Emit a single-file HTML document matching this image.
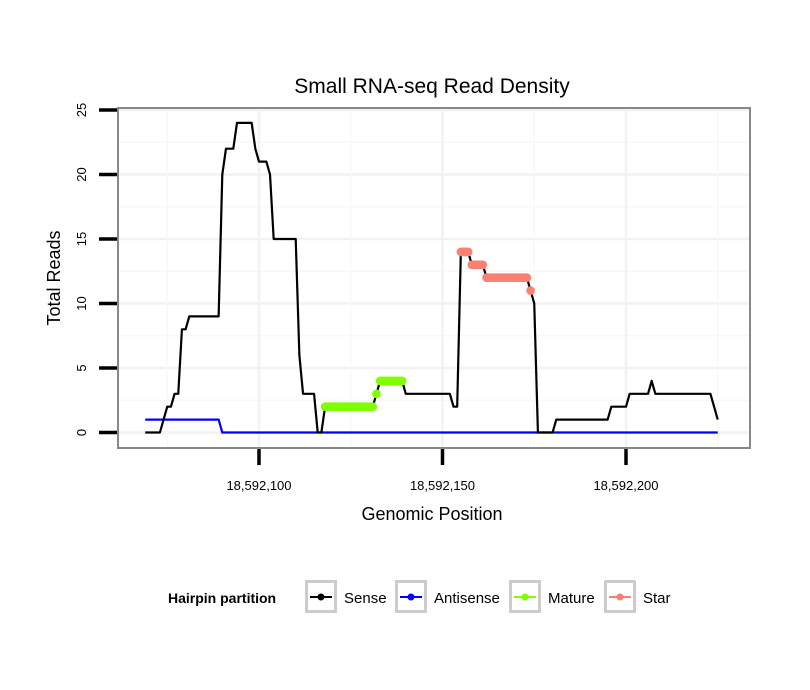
<!DOCTYPE html>
<html><head><meta charset="utf-8"><style>
body{margin:0;background:#fff;}
svg{display:block;font-family:"Liberation Sans",sans-serif;}
</style></head><body>
<svg id="chart" width="810" height="690">
<text x="432" y="93" text-anchor="middle" font-size="21">Small RNA-seq Read Density</text>
<g id="grid"></g>
<rect x="118" y="108" width="632" height="340" fill="none" stroke="#888" stroke-width="2"/>
<g id="axes"></g>
<g id="series"></g>
<text x="432" y="520" text-anchor="middle" font-size="18">Genomic Position</text>
<text transform="translate(60,278) rotate(-90)" text-anchor="middle" font-size="18">Total Reads</text>
<g id="legend">
<text x="168" y="603" font-size="14" font-weight="bold">Hairpin partition</text>
</g>
</svg>
<script>
const senseStart = 69;
const senseVals = [0,0,0,0,0,1,2,2,3,3,8,8,9,9,9,9,9,9,9,9,9,20,22,22,22,24,24,24,24,24,22,21,21,21,20,15,15,15,15,15,15,15,6,3,3,3,3,0,0,2,2,2,2,2,2,2,2,2,2,2,2,2,2,3,4,4,4,4,4,4,4,3,3,3,3,3,3,3,3,3,3,3,3,3,2,2,14,14,14,13,13,13,13,12,12,12,12,12,12,12,12,12,12,12,12,11,10,0,0,0,0,0,1,1,1,1,1,1,1,1,1,1,1,1,1,1,1,2,2,2,2,2,3,3,3,3,3,3,4,3,3,3,3,3,3,3,3,3,3,3,3,3,3,3,3,2,1];
const antiStart = 69;
const antiVals = [1,1,1,1,1,1,1,1,1,1,1,1,1,1,1,1,1,1,1,1,1];
const antiEnd = 225;
const matureStart = 118;
const matureEnd = 139;
const starStart = 155;
const starEnd = 174;
const yTicks = [0,5,10,15,20,25];
const xTicks = [18592100,18592150,18592200];
const xTickLabels = ["18,592,100","18,592,150","18,592,200"];
const legendLabels = ["Sense","Antisense","Mature","Star"];
const legendColors = ["#000","#0000ff","#7fff00","#fa8072"];
const legendKeyX = [305,395,509,604];

const NS="http://www.w3.org/2000/svg";
const xs = p => 259 + (p - 100) * 3.67;
const ys = v => 432.5 - v * 12.9;
function mk(tag, attrs, parent){const e=document.createElementNS(NS,tag);for(const k in attrs)e.setAttribute(k,attrs[k]);parent.appendChild(e);return e;}
const grid=document.getElementById('grid'),axes=document.getElementById('axes'),ser=document.getElementById('series'),leg=document.getElementById('legend');

for(let v=0; v<=25; v+=2.5){
  const g=mk('line',{x1:119,x2:749,y1:ys(v),y2:ys(v),stroke:(v%5===0)?'#f2f2f2':'#f8f8f8','stroke-width':(v%5===0)?2.5:1.5},grid);
  
  
}
for(let p=75; p<=225; p+=25){
  const g=mk('line',{x1:xs(p),x2:xs(p),y1:109,y2:447,stroke:(p%50===0)?'#f2f2f2':'#f8f8f8','stroke-width':(p%50===0)?2.5:1.5},grid);
  
  
}
yTicks.forEach(v=>{
  const t=mk('line',{x1:99,x2:117,y1:ys(v),y2:ys(v),stroke:'#000','stroke-width':3.5},axes);
  
  
  const l=mk('text',{transform:`translate(86,${ys(v)}) rotate(-90)`,'text-anchor':'middle','font-size':13},axes);
  l.textContent=v;
  
  
});
xTicks.forEach((v,i)=>{
  const p=v-18592000;
  const t=mk('line',{x1:xs(p),x2:xs(p),y1:449,y2:465,stroke:'#000','stroke-width':3.5},axes);
  
  
  const l=mk('text',{x:xs(p),y:490,'text-anchor':'middle','font-size':13},axes);
  l.textContent=xTickLabels[i];
  
  
});
function pts(start, vals){return vals.map((v,i)=>xs(start+i)+','+ys(v)).join(' ');}
const antiFull = antiVals.slice();
for(let p=antiStart+antiVals.length; p<=antiEnd; p++) antiFull.push(0);
const a=mk('polyline',{points:pts(antiStart,antiFull),fill:'none',stroke:'#0000ff','stroke-width':2.2},ser);


const s=mk('polyline',{points:pts(senseStart,senseVals),fill:'none',stroke:'#000','stroke-width':2.2,'stroke-linejoin':'round'},ser);


function overlay(st,en,col,name){
  const vals=senseVals.slice(st-senseStart,en-senseStart+1);
  vals.forEach((v,i)=>{
    const c=mk('circle',{cx:xs(st+i),cy:ys(v),r:4.3,fill:col},ser);
    
    
    if(i<vals.length-1 && vals[i+1]===v){
      const l=mk('line',{x1:xs(st+i),x2:xs(st+i+1),y1:ys(v),y2:ys(v),stroke:col,'stroke-width':8.6},ser);
      
      
    }
  });
}
overlay(matureStart,matureEnd,'#7fff00','mature');
overlay(starStart,starEnd,'#fa8072','star');
legendLabels.forEach((lab,i)=>{
  const x=legendKeyX[i];
  const r=mk('rect',{x:x+1.5,y:581.5,width:29,height:30,fill:'#fff',stroke:'#cccccc','stroke-width':3},leg);
  
  
  mk('line',{x1:x+5,x2:x+27,y1:597,y2:597,stroke:legendColors[i],'stroke-width':2},leg);
  mk('circle',{cx:x+16,cy:597,r:3.5,fill:legendColors[i]},leg);
  const t=mk('text',{x:x+39,y:603,'font-size':15},leg);
  t.textContent=lab;
  
  
});
</script>
</body></html>
